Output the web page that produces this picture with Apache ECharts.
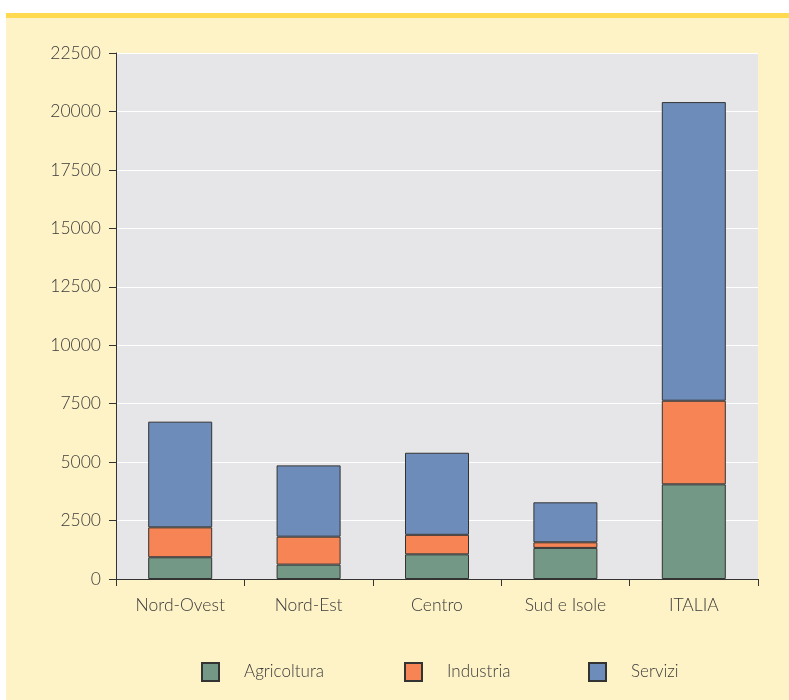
<!DOCTYPE html>
<html><head><meta charset="utf-8">
<script src="https://cdn.jsdelivr.net/npm/echarts@6/dist/echarts.min.js"></script>
<style>html,body{margin:0;padding:0;background:#fff}#c{width:789px;height:700px}</style>
</head><body><div id="c"></div>
<script>
const categories = ['Nord-Ovest','Nord-Est','Centro','Sud e Isole','ITALIA'];
const agricoltura = [930, 615, 1055, 1330, 4050];
const industria = [1280, 1195, 835, 240, 3575];
const servizi = [4520, 3050, 3510, 1710, 12775];
const yTicks = {min: 0, max: 22500, interval: 2500};

const chart = echarts.init(document.getElementById('c'));
const font = 'Lato, "Noto Sans", sans-serif';
const border = {borderColor: '#333', borderWidth: 1};
chart.setOption({
  backgroundColor: '#ffffff',
  textStyle: {fontFamily: font},
  graphic: [
    {type: 'rect', z: -10, shape: {x: 6, y: 13, width: 783, height: 687}, style: {fill: '#FEF2C7'}},
    {type: 'rect', z: -9, shape: {x: 6, y: 13, width: 783, height: 5}, style: {fill: '#FFD94F'}}
  ],
  grid: {left: 116, right: 31, top: 53, bottom: 121, show: true, backgroundColor: '#E6E6E8', borderWidth: 0},
  legend: [
    {data: ['Agricoltura'], left: 201, top: 662},
    {data: ['Industria'], left: 404, top: 662},
    {data: ['Servizi'], left: 588, top: 662}
  ].map(l => Object.assign(l, {itemWidth: 17, itemHeight: 18, itemGap: 20, icon: 'rect', padding: 0,
      textStyle: {fontSize: 17, color: '#3a3a3a', fontFamily: font, fontWeight: 300, padding: [0, 0, 0, 20]}})),
  xAxis: {
    type: 'category', data: categories, boundaryGap: true,
    axisLine: {lineStyle: {color: '#333', width: 1}},
    axisTick: {show: true, length: 7, lineStyle: {color: '#333'}},
    axisLabel: {fontSize: 17.5, color: '#3a3a3a', margin: 17, fontWeight: 300, fontFamily: font}
  },
  yAxis: {
    type: 'value', min: yTicks.min, max: yTicks.max, interval: yTicks.interval,
    axisLine: {show: true, lineStyle: {color: '#333', width: 1}},
    axisTick: {show: true, length: 7, lineStyle: {color: '#333'}},
    splitLine: {show: true, lineStyle: {color: '#ffffff', width: 1}},
    axisLabel: {fontSize: 17.5, color: '#3a3a3a', margin: 15, fontWeight: 300, fontFamily: font, formatter: v => String(v)}
  },
  series: [
    {name: 'Agricoltura', type: 'bar', stack: 't', data: agricoltura, barWidth: 64, itemStyle: Object.assign({color: '#739885'}, border)},
    {name: 'Industria', type: 'bar', stack: 't', data: industria, barWidth: 64, itemStyle: Object.assign({color: '#F68454'}, border)},
    {name: 'Servizi', type: 'bar', stack: 't', data: servizi, barWidth: 64, itemStyle: Object.assign({color: '#6E8CB9'}, border)}
  ]
});
</script></body></html>
